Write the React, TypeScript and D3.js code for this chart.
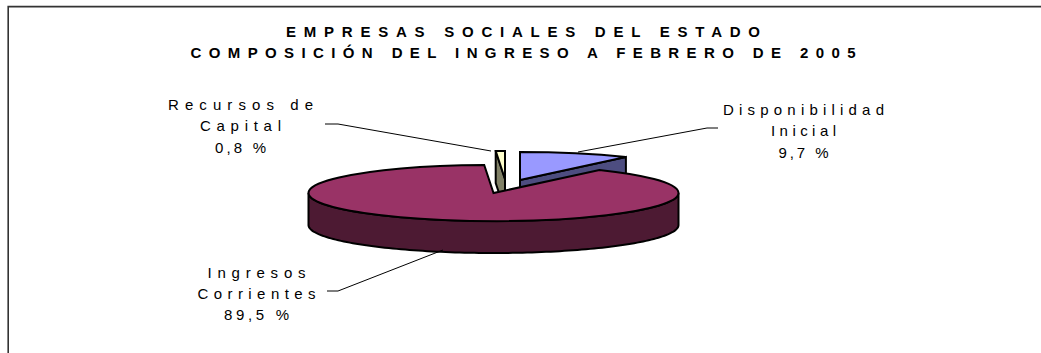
import React from "react";
import * as d3 from "d3";

// Income composition of the state social enterprises, February 2005
const categories = ["Disponibilidad Inicial", "Ingresos Corrientes", "Recursos de Capital"];
const shares = [9.7, 89.5, 0.8];
const topColors = ["#9999FF", "#993366", "#FFFFCC"];
const sideColors = ["#4D4D80", "#4D1A33", "#808066"];
const titleLines = ["EMPRESAS SOCIALES DEL ESTADO", "COMPOSICIÓN DEL INGRESO A FEBRERO DE 2005"];
const titleWidths = [474, 665];
const labelLines = [
  ["Disponibilidad", "Inicial", "9,7 %"],
  ["Ingresos", "Corrientes", "89,5 %"],
  ["Recursos de", "Capital", "0,8 %"],
];
const labelWidths = [
  [161, 65, 50],
  [98, 118, 65],
  [145, 81, 51],
];

// Layout of the tilted pie
const W = 1041;
const H = 353;
const RX = 185;
const RY = 28;
const DEPTH = 32;
const centers: [number, number][] = [
  [520, 180],
  [493.5, 193],
  [505, 179],
];
const labelAnchors: [number, number][] = [
  [803.5, 115],
  [256.5, 277.5],
  [240.5, 110],
];
const leaders: [number, number][][] = [
  [[718, 128], [707, 128], [578, 152]],
  [[327, 291], [338, 291], [443, 250]],
  [[325, 124], [338, 124], [491, 151]],
];

const pie = d3.pie<number>().sort(null).value((d) => d)(shares);
const arcGen = d3.arc<d3.PieArcDatum<number>>().innerRadius(0).outerRadius(RX);
const lineGen = d3.line<[number, number]>();

// Map an angle clockwise from 12 o'clock onto the tilted rim
const rim = (a: number, c: [number, number], dy = 0): [number, number] => [
  c[0] + RX * Math.sin(a),
  c[1] - RY * Math.cos(a) + dy,
];

// Outer wall between two angles
const wallPath = (a0: number, a1: number, c: [number, number]) => {
  const steps = d3.range(0, 121).map((i) => a0 + ((a1 - a0) * i) / 120);
  const upper = steps.map((a) => rim(a, c));
  const lower = steps.slice().reverse().map((a) => rim(a, c, DEPTH));
  return lineGen([...upper, ...lower]) + "Z";
};

// Flat face exposed along a radial cut of a pulled-out slice
const cutPath = (a: number, c: [number, number]) => {
  const r = rim(a, c);
  return lineGen([c, r, [r[0], r[1] + DEPTH], [c[0], c[1] + DEPTH]]) + "Z";
};

const Slice = ({ i }: { i: number }) => {
  const d = pie[i];
  const c = centers[i];
  return (
    <path
      d={arcGen(d) ?? ""}
      transform={`translate(${c[0]},${c[1]}) scale(1,${RY / RX})`}
      fill={topColors[i]}
      stroke="#000"
      strokeWidth={2}
      strokeLinejoin="miter"
      vectorEffect="non-scaling-stroke"
    />
  );
};

const edge = { stroke: "#000", strokeWidth: 2, strokeLinejoin: "miter" as const };
const labelFont = "'Liberation Sans', Arial, sans-serif";

export default function App() {
  return (
    <svg
      width={W}
      height={H}
      viewBox={`0 0 ${W} ${H}`}
      style={{ position: "absolute", left: 0, top: 0, background: "#fff" }}
    >
      <path d={`M8.2,${H}V6.6H${W}`} fill="none" stroke="#333" strokeWidth={1.6} />

      {titleLines.map((t, i) => (
        <text
          key={t}
          x={523}
          y={36.8 + i * 21}
          textAnchor="middle"
          fontFamily={labelFont}
          fontSize={15}
          fontWeight="bold"
          textLength={titleWidths[i]}
          lengthAdjust="spacing"
          fill="#000"
        >
          {t}
        </text>
      ))}

      {/* Back slices first, the large slice overlaps them */}
      <path d={cutPath(pie[2].startAngle, centers[2])} fill={sideColors[2]} {...edge} />
      <Slice i={2} />
      <path d={cutPath(pie[0].endAngle, centers[0])} fill={sideColors[0]} {...edge} />
      <Slice i={0} />
      <path
        d={wallPath(Math.PI / 2, (3 * Math.PI) / 2, centers[1])}
        fill={sideColors[1]}
        {...edge}
      />
      <Slice i={1} />

      {leaders.map((pts, i) => (
        <path key={categories[i]} d={lineGen(pts) ?? ""} fill="none" stroke="#000" strokeWidth={1} />
      ))}

      {labelLines.map((lines, i) =>
        lines.map((t, j) => (
          <text
            key={t}
            x={labelAnchors[i][0]}
            y={labelAnchors[i][1] + j * 21.3}
            textAnchor="middle"
            fontFamily={labelFont}
            fontSize={15}
            textLength={labelWidths[i][j]}
            lengthAdjust="spacing"
            fill="#000"
          >
            {t}
          </text>
        ))
      )}
    </svg>
  );
}
